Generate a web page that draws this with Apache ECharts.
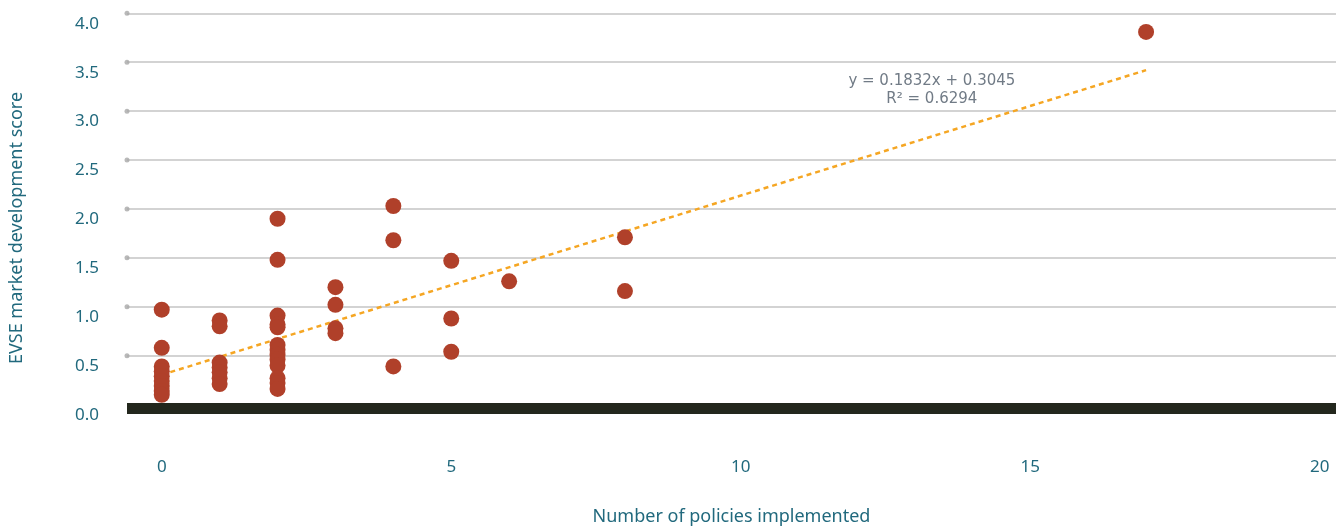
<!DOCTYPE html>
<html>
<head>
<meta charset="utf-8">
<script src="https://cdn.jsdelivr.net/npm/echarts@6/dist/echarts.min.js"></script>
<style>
  html, body { margin: 0; padding: 0; background: #ffffff; }
  #chart { width: 1341px; height: 531px; }
</style>
</head>
<body>
<div id="chart"></div>
<script>
// Number of policies implemented per market (x) and EVSE market development score (y)
const policies0 = [0, 0, 0, 0, 0, 0, 0, 0, 0];
const scores0   = [0.97, 0.58, 0.39, 0.34, 0.29, 0.24, 0.19, 0.14, 0.10];

const policies1 = [1, 1, 1, 1, 1, 1, 1];
const scores1   = [0.86, 0.80, 0.43, 0.38, 0.33, 0.27, 0.21];

const policies2 = [2, 2, 2, 2, 2, 2, 2, 2, 2, 2, 2, 2, 2];
const scores2   = [1.90, 1.48, 0.91, 0.82, 0.79, 0.61, 0.56, 0.51, 0.46, 0.40, 0.27, 0.22, 0.16];

const policiesHigh = [3, 3, 3, 3, 4, 4, 4, 5, 5, 5, 6, 8, 8, 17];
const scoresHigh   = [1.20, 1.02, 0.78, 0.73, 2.03, 1.68, 0.39, 1.47, 0.88, 0.54, 1.26, 1.71, 1.16, 3.81];

// Linear trend line
const trendSlope = 0.1832;
const trendIntercept = 0.3045;
const trendRange = [0, 17];
const trendLabel = ['y = 0.1832x + 0.3045', 'R² = 0.6294'];

// Axis ticks
const xTicks = [0, 5, 10, 15, 20];
const yTicks = [0.5, 1.0, 1.5, 2.0, 2.5, 3.0, 3.5, 4.0];

const X_MIN = -0.6, X_MAX = 20.28;

const points = []
  .concat(policies0.map((x, i) => [x, scores0[i]]))
  .concat(policies1.map((x, i) => [x, scores1[i]]))
  .concat(policies2.map((x, i) => [x, scores2[i]]))
  .concat(policiesHigh.map((x, i) => [x, scoresHigh[i]]));

const trendPoints = trendRange.map(x => [x, trendSlope * x + trendIntercept]);

const teal = '#21697d';
const font = 'Noto Sans';

const chart = echarts.init(document.getElementById('chart'), null, { renderer: 'canvas' });

chart.setOption({
  animation: false,
  backgroundColor: '#ffffff',
  grid: { left: 127, right: 5, top: 13.3, bottom: 531 - 404.6 },
  xAxis: {
    type: 'value',
    min: X_MIN,
    max: X_MAX,
    offset: 4,
    name: 'Number of policies implemented',
    nameLocation: 'middle',
    nameGap: 99,
    nameTextStyle: { color: teal, fontFamily: font, fontSize: 18 },
    axisLine: { show: true, onZero: false, lineStyle: { color: '#23271d', width: 11, cap: 'butt' } },
    axisTick: { show: false },
    splitLine: { show: false },
    axisLabel: {
      customValues: xTicks,
      color: teal, fontFamily: font, fontSize: 17, margin: 50
    }
  },
  yAxis: {
    type: 'value',
    min: 0,
    max: 4,
    interval: 0.5,
    axisLine: { show: false },
    axisTick: { show: false },
    splitLine: { show: true, lineStyle: { color: '#c4c4c4', width: 1.5 } },
    axisLabel: {
      color: teal, fontFamily: font, fontSize: 17, margin: 28,
      verticalAlign: 'top',
      padding: [2, 0, 0, 0],
      formatter: v => v.toFixed(1)
    }
  },
  graphic: [
    {
      type: 'text',
      x: 17, y: 228,
      rotation: Math.PI / 2,
      style: {
        text: 'EVSE market development score',
        fill: teal, font: '18px "Noto Sans"',
        textAlign: 'center', textVerticalAlign: 'middle'
      }
    }
  ],
  series: [
    {
      // small markers at the start of each gridline
      type: 'scatter',
      silent: true,
      clip: false,
      symbolSize: 5,
      itemStyle: { color: '#a8a8a8' },
      data: yTicks.map(v => [X_MIN, v]),
      z: 1
    },
    {
      type: 'line',
      data: trendPoints,
      symbol: 'none',
      silent: true,
      lineStyle: { color: '#f5a623', width: 2.5, type: [5, 4] },
      z: 2,
      markPoint: {
        symbol: 'circle',
        symbolSize: 0,
        silent: true,
        itemStyle: { color: 'rgba(0,0,0,0)' },
        label: {
          show: true,
          position: 'inside',
          formatter: trendLabel.join('\n'),
          color: '#717b86',
          fontFamily: 'DejaVu Sans',
          fontSize: 15,
          lineHeight: 18,
          align: 'center',
          verticalAlign: 'middle'
        },
        data: [{ coord: [13.3, 3.21] }]
      }
    },
    {
      type: 'scatter',
      data: points,
      symbolSize: 16,
      itemStyle: { color: '#b0402a', opacity: 1 },
      z: 3
    }
  ]
});
</script>
</body>
</html>
